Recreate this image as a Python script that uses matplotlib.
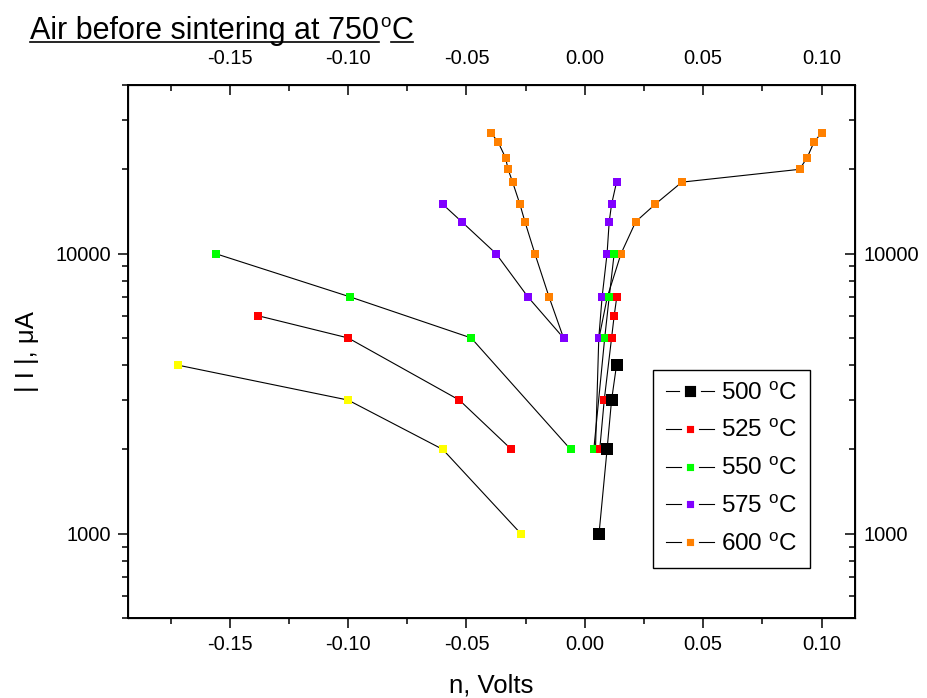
import matplotlib
matplotlib.use("Agg")
import matplotlib.pyplot as plt
from matplotlib.lines import Line2D

plt.rcParams["font.family"] = ["Liberation Sans", "DejaVu Sans"]
plt.rcParams["mathtext.default"] = "regular"

# |I| in uA against n in volts; each run has a cathodic (left) and anodic (right) branch
x_500 = [0.0060, 0.0094, 0.0113, 0.0134]
y_500 = [1000, 2000, 3000, 4000]

x_525_l = [-0.138, -0.100, -0.053, -0.031]
y_525_l = [6000, 5000, 3000, 2000]
x_525_r = [0.0063, 0.0082, 0.0113, 0.0124, 0.0135]
y_525_r = [2000, 3000, 5000, 6000, 7000]

x_550_l = [-0.156, -0.099, -0.048, -0.006]
y_550_l = [10000, 7000, 5000, 2000]
x_550_r = [0.0038, 0.0084, 0.0103, 0.0124]
y_550_r = [2000, 5000, 7000, 10000]

x_575_l = [-0.060, -0.052, -0.0375, -0.024, -0.009]
y_575_l = [15000, 13000, 10000, 7000, 5000]
x_575_r = [0.0045, 0.0059, 0.0073, 0.0094, 0.0103, 0.0113, 0.0134]
y_575_r = [2000, 5000, 7000, 10000, 13000, 15000, 18000]

x_600_l = [-0.0396, -0.0366, -0.0335, -0.0324, -0.0305, -0.0274, -0.0253, -0.0211, -0.0151, -0.009]
y_600_l = [27000, 25000, 22000, 20000, 18000, 15000, 13000, 10000, 7000, 5000]
x_600_r = [0.0060, 0.0095, 0.0153, 0.0215, 0.0297, 0.0410, 0.0907, 0.0939, 0.0968, 0.1000]
y_600_r = [5000, 7000, 10000, 13000, 15000, 18000, 20000, 22000, 25000, 27000]

# unlabelled yellow run
x_yel = [-0.172, -0.100, -0.060, -0.027]
y_yel = [4000, 3000, 2000, 1000]

labels = ["500 $^{o}$C", "525 $^{o}$C", "550 $^{o}$C", "575 $^{o}$C", "600 $^{o}$C"]
colors = ["black", "#ff0000", "#00ff00", "#8000ff", "#ff8000"]

fig = plt.figure(figsize=(9.27, 6.98), dpi=100)
ax = fig.add_axes([0.138, 0.1146, 0.784, 0.7636])

ms = 5.2
lw = 0.8


def branch(x, y, c, z, size=ms):
    ax.plot(x, y, "-", color="black", lw=lw, zorder=z,
            marker="s", ms=size, mfc=c, mec=c, mew=0)


branch(x_600_l, y_600_l, colors[4], 2)
branch(x_600_r, y_600_r, colors[4], 2)
branch(x_575_l, y_575_l, colors[3], 3)
branch(x_575_r, y_575_r, colors[3], 3)
branch(x_550_l, y_550_l, colors[2], 4)
branch(x_550_r, y_550_r, colors[2], 4)
branch(x_525_l, y_525_l, colors[1], 5)
branch(x_525_r, y_525_r, colors[1], 5)
branch(x_500, y_500, colors[0], 6, size=8.6)
branch(x_yel, y_yel, "#ffff00", 4)

ax.set_yscale("log")
ax.set_xlim(-0.193, 0.114)
ax.set_ylim(500, 40000)

xt = [-0.15, -0.10, -0.05, 0.00, 0.05, 0.10]
xt_minor = [-0.175, -0.125, -0.075, -0.025, 0.025, 0.075]
yt = [1000, 10000]

ax.set_xticks(xt)
ax.set_xticklabels([f"{v:.2f}" for v in xt])
ax.set_xticks(xt_minor, minor=True)
ax.set_yticks(yt)
ax.set_yticklabels([str(v) for v in yt])
ax.tick_params(axis="both", which="major", direction="out", length=7, width=1.1,
               labelsize=14.5, pad=5)
ax.tick_params(axis="both", which="minor", direction="out", length=4, width=1.1)
for s in ax.spines.values():
    s.set_linewidth(1.4)

top = ax.twiny()
top.set_xlim(ax.get_xlim())
top.set_xticks(xt)
top.set_xticklabels([f"{v:.2f}" for v in xt])
top.set_xticks(xt_minor, minor=True)
top.tick_params(which="major", direction="in", length=7, width=1.1, labelsize=14.5, pad=12)
top.tick_params(which="minor", direction="in", length=4, width=1.1)

right = ax.twinx()
right.set_yscale("log")
right.set_ylim(ax.get_ylim())
right.set_yticks(yt)
right.set_yticklabels([str(v) for v in yt])
right.tick_params(which="major", direction="in", length=7, width=1.1, labelsize=14.5, pad=6)
right.tick_params(which="minor", direction="in", length=4, width=1.1)

ax.set_xlabel("n, Volts", fontsize=18.5, labelpad=14)
ax.set_ylabel("| I |, \u03bcA", fontsize=18.5, labelpad=12)

handles = [Line2D([], [], color="black", lw=lw, marker="s", mfc=c, mec="white", mew=3.5,
                  ms=(8.6 if i == 0 else ms) + 3.5) for i, c in enumerate(colors)]
leg = ax.legend(handles, labels, loc="upper right", bbox_to_anchor=(0.938, 0.465),
                borderaxespad=0, fontsize=17.5, frameon=True, fancybox=False,
                edgecolor="black", framealpha=1, handlelength=2.0, handletextpad=0.3,
                labelspacing=0.64, borderpad=0.5, numpoints=1)
leg.get_frame().set_linewidth(1.0)
leg.set_zorder(10)

# underlined title with raised "o"
renderer = fig.canvas.get_renderer()
W, H = fig.get_size_inches() * fig.dpi
base = (H - 39) / H
t1 = fig.text(30 / W, base, "Air before sintering at 750", fontsize=22, va="baseline")
b1 = t1.get_window_extent(renderer)
t2 = fig.text(b1.x1 / W + 1 / W, base + 12 / H, "o", fontsize=13.5, va="baseline")
b2 = t2.get_window_extent(renderer)
t3 = fig.text(b2.x1 / W + 1 / W, base, "C", fontsize=22, va="baseline")
b3 = t3.get_window_extent(renderer)
uy = base - 3 / H
fig.add_artist(Line2D([b1.x0 / W, b1.x1 / W], [uy, uy], color="black", lw=1.2,
                      transform=fig.transFigure))
fig.add_artist(Line2D([b3.x0 / W, b3.x1 / W], [uy, uy], color="black", lw=1.2,
                      transform=fig.transFigure))

fig.savefig("out.png", dpi=100)
